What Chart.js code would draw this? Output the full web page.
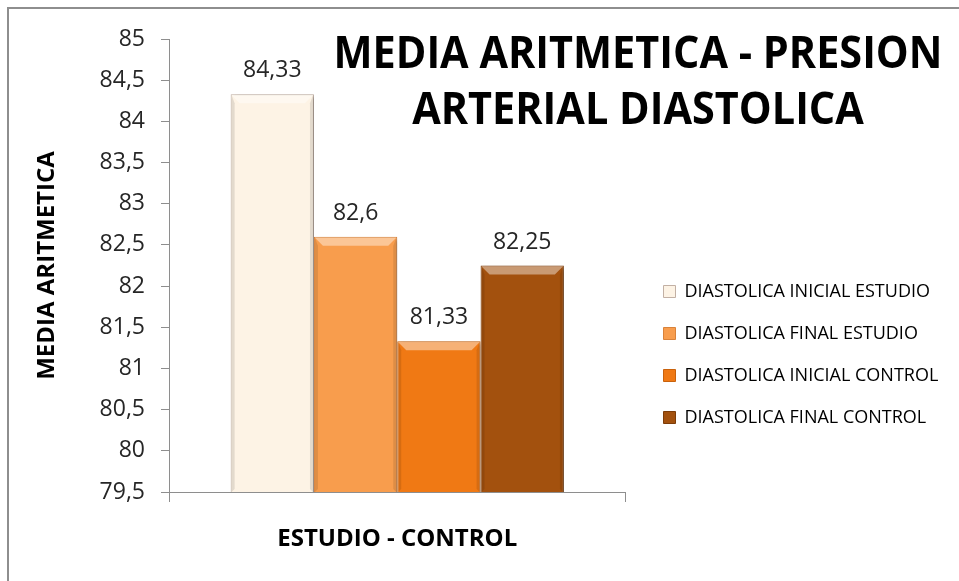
<!DOCTYPE html>
<html>
<head>
<meta charset="utf-8">
<script src="https://cdn.jsdelivr.net/npm/chart.js@4/dist/chart.umd.min.js"></script>
<style>
  html, body { margin: 0; padding: 0; background: #ffffff; }
  #wrap { position: relative; width: 959px; height: 581px; overflow: hidden; }
  #frame { position: absolute; left: 7px; top: 7px; right: -10px; bottom: -10px;
           border-left: 2px solid #8e8e8e; border-top: 2px solid #8e8e8e; }
  #c { position: absolute; left: 0; top: 0; }
</style>
</head>
<body>
<div id="wrap">
  <div id="frame"></div>
  <canvas id="c" width="959" height="581"></canvas>
</div>
<script>
// Chart text
const chartTitle = ['MEDIA ARITMETICA - PRESION', 'ARTERIAL DIASTOLICA'];
const yAxisTitle = 'MEDIA ARITMETICA';
const xAxisTitle = 'ESTUDIO - CONTROL';

// One category, four grouped series
const categories = [''];
const seriesNames = [
  'DIASTOLICA INICIAL ESTUDIO',
  'DIASTOLICA FINAL ESTUDIO',
  'DIASTOLICA INICIAL CONTROL',
  'DIASTOLICA FINAL CONTROL'
];
const inicialEstudio = [84.33];
const finalEstudio = [82.6];
const inicialControl = [81.33];
const finalControl = [82.25];

// Value axis range
const yMin = 79.5;
const yMax = 85;
const yStep = 0.5;

// Bar styling
const barFills = ['#fdf3e5', '#f89d4d', '#f07914', '#a3510e'];
const barEdges = ['#c2b0a4', '#d9823a', '#c9620c', '#7d3c08'];

const fmt = v => String(v).replace('.', ',');

// Bevelled look on each bar: light top facet, shaded sides
const bevel = {
  id: 'bevel',
  beforeDatasetsDraw(chart) {
    const ctx = chart.ctx;
    ctx.save();
    ctx.shadowColor = 'rgba(0,0,0,0.28)';
    ctx.shadowOffsetX = 3;
    ctx.shadowOffsetY = 2;
    ctx.shadowBlur = 4;
  },
  afterDatasetsDraw(chart) {
    const ctx = chart.ctx;
    ctx.restore();
    const area = chart.chartArea;
    ctx.save();
    ctx.beginPath();
    ctx.rect(area.left, area.top - 20, area.right - area.left, area.bottom - area.top + 20);
    ctx.clip();
    chart.data.datasets.forEach((ds, i) => {
      const meta = chart.getDatasetMeta(i);
      meta.data.forEach(bar => {
        const p = bar.getProps(['x', 'y', 'width', 'base'], true);
        const l = p.x - p.width / 2 + 1, r = p.x + p.width / 2 - 1;
        const t = p.y + 1, btm = Math.min(p.base, area.bottom);
        const b = 8, s = 3;
        ctx.fillStyle = 'rgba(255,255,255,0.42)';
        ctx.beginPath();
        ctx.moveTo(l, t); ctx.lineTo(r, t); ctx.lineTo(r - b, t + b); ctx.lineTo(l + b, t + b);
        ctx.closePath(); ctx.fill();
        ctx.fillStyle = 'rgba(0,0,0,0.10)';
        ctx.beginPath();
        ctx.moveTo(l, t); ctx.lineTo(l + s, t + b); ctx.lineTo(l + s, btm - s); ctx.lineTo(l, btm);
        ctx.closePath(); ctx.fill();
        ctx.beginPath();
        ctx.moveTo(r, t); ctx.lineTo(r - s, t + b); ctx.lineTo(r - s, btm - s); ctx.lineTo(r, btm);
        ctx.closePath(); ctx.fill();
      });
    });
    ctx.restore();

    // value labels above the bars
    ctx.save();
    ctx.font = '23px "Open Sans"';
    ctx.fillStyle = '#262626';
    ctx.textAlign = 'center';
    ctx.textBaseline = 'alphabetic';
    chart.data.datasets.forEach((ds, i) => {
      chart.getDatasetMeta(i).data.forEach((bar, j) => {
        const p = bar.getProps(['x', 'y'], true);
        ctx.fillText(fmt(ds.data[j]), p.x, p.y - 17);
      });
    });
    ctx.restore();
  }
};

// Two-line heading laid over the upper right of the plot
const heading = {
  id: 'heading',
  afterDraw(chart) {
    const ctx = chart.ctx;
    ctx.save();
    ctx.font = 'bold 45px "Open Sans"';
    ctx.fillStyle = '#000000';
    ctx.textAlign = 'center';
    ctx.textBaseline = 'alphabetic';
    const sx = 609 / ctx.measureText(chartTitle[0]).width;
    chartTitle.forEach((line, i) => {
      ctx.save();
      ctx.translate(638, 68 + i * 56);
      ctx.scale(sx, 1);
      ctx.fillText(line, 0, 0);
      ctx.restore();
    });
    ctx.restore();
  }
};

// Legend box: starts a little right of the plot, runs to the canvas edge,
// and sits lower down beside the bars
const legendPlacement = {
  id: 'legendPlacement',
  afterLayout(chart) {
    const lg = chart.legend;
    if (!lg) return;
    const area = chart.chartArea;
    const h = lg.bottom - lg.top;
    lg.left = area.right + 14;
    lg.right = chart.width;
    lg.width = lg.right - lg.left;
    lg.top = area.top + 219.5;
    lg.bottom = lg.top + h;
  }
};

function draw() {
  const series = [inicialEstudio, finalEstudio, inicialControl, finalControl];
  new Chart(document.getElementById('c'), {
    type: 'bar',
    data: {
      labels: categories,
      datasets: series.map((vals, i) => ({
        label: seriesNames[i],
        data: vals,
        backgroundColor: barFills[i],
        borderColor: barEdges[i],
        borderWidth: 1,
        borderSkipped: false,
        categoryPercentage: 0.73,
        barPercentage: 1.0
      }))
    },
    options: {
      responsive: false,
      animation: false,
      devicePixelRatio: 1,
      layout: { padding: { top: 39, left: 0, right: 125, bottom: 0 } },
      plugins: {
        tooltip: { enabled: false },
        legend: {
          position: 'right',
          align: 'start',
          labels: {
            boxWidth: 12,
            boxHeight: 12,
            padding: 24,
            color: '#000000',
            font: { family: '"Open Sans"', size: 18 }
          }
        }
      },
      scales: {
        x: {
          grid: { offset: true, drawOnChartArea: false, drawTicks: true, tickLength: 10, color: '#8e8e8e' },
          border: { display: true, color: '#8e8e8e', width: 1 },
          ticks: { display: false },
          title: {
            display: true, text: xAxisTitle, color: '#000000',
            font: { family: '"Open Sans"', size: 24, weight: 'bold', lineHeight: 1.2 },
            padding: { top: 0, bottom: 27.6 }
          },
          afterFit(scale) { scale.height = 89; }
        },
        y: {
          min: yMin,
          max: yMax,
          grid: { drawOnChartArea: false, drawTicks: true, tickLength: 8, color: '#8e8e8e' },
          border: { display: true, color: '#8e8e8e', width: 1 },
          ticks: {
            stepSize: yStep,
            padding: 16,
            color: '#262626',
            font: { family: '"Open Sans"', size: 23 },
            callback: v => fmt(v)
          },
          title: {
            display: true, text: yAxisTitle, color: '#000000',
            font: { family: '"Open Sans"', size: 24, weight: 'bold', lineHeight: 1.2 },
            padding: { top: 32.6, bottom: 0 }
          },
          afterFit(scale) { scale.width = 169; }
        }
      }
    },
    plugins: [bevel, heading, legendPlacement]
  });
}

const fontsReady = document.fonts && document.fonts.load
  ? Promise.all([
      document.fonts.load('23px "Open Sans"'),
      document.fonts.load('bold 45px "Open Sans"')
    ]).catch(() => {})
  : Promise.resolve();
fontsReady.then(draw);
</script>
</body>
</html>
